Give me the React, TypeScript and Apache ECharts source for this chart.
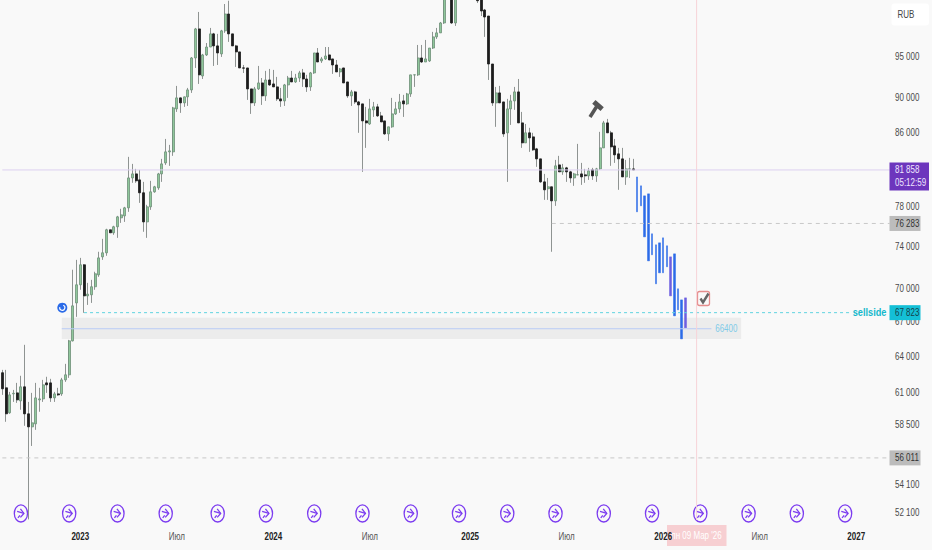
import React, { useEffect, useRef } from "react";
import * as echarts from "echarts";

// weekly candles: [open, close, low, high]
const candles: number[][] = [
[62660,61350,60860,62900],[61430,59360,58740,62900],[59440,60860,59360,61100],[60940,60990,60300,61260],[61020,60460,60220,61830],
[60380,61510,59680,62410],[61510,59360,58430,65010],[59360,58350,51650,60300],[58350,58660,56900,61020],[58580,60620,58120,61830],
[60460,60540,59520,61430],[60540,61670,60300,62075],[61830,61670,61020,62330],[61830,60620,60300,62160],[60620,60940,60300,61100],
[60940,60860,60780,61430],[60940,62075,60780,62240],[62075,62490,61910,63400],[62490,65350,62240,65435],[65350,68435,65300,71770],
[68700,70360,67450,72710],[70360,72240,69900,72900],[72240,69340,67810,72300],[69340,69500,68520,70540],[69440,70180,68700,70820],
[70180,71390,69900,71580],[71290,72900,71100,73490],[73000,73390,72710,74750],[73390,75650,73100,75750],[75650,75350,75350,75650],
[75350,75950,75150,76050],[75950,76950,74850,77050],[76850,77150,76340,77770],[77050,77870,76440,77970],[77870,81000,77460,83280],
[81000,81430,80480,82510],[81430,80690,80480,81970],[80790,79430,78380,81860],[79430,76440,75450,80580],[76440,77970,74850,78180],
[77970,79530,77660,80690],[79530,80060,79430,80160],[79950,81430,79740,81540],[81430,82510,80580,83060],[82620,83830,82400,85270],
[83830,83940,82300,84605],[83830,88830,83390,88950],[88710,90010,88360,91440],[90010,89420,88250,90050],[89420,90130,88950,90160],
[90130,90960,89060,91200],[90960,94870,90600,94990],[94870,98570,93630,98700],[98570,92780,91680,100800],[92650,95250,92280,95380],
[95250,96250,95120,96760],[96250,97930,96240,98700],[97930,96390,93880,98060],[96390,95500,94000,97930],[95380,98320,95000,98450],
[98320,100530,98060,101860],[100530,97930,96900,102300],[97930,96390,96380,97930],[96390,95630,93760,96520],[95630,93630,93630,95630],
[93640,93600,93010,94000],[93630,91080,89770,93630],[91080,89420,88130,91080],[89420,91080,89060,91320],[91080,91800,90960,93880],
[91800,90250,89180,92400],[90250,92160,89650,93270],[92160,91560,91440,93510],[91680,91320,91320,93390],[91320,89890,89650,92530],
[89890,89650,88950,91200],[89650,91560,89060,91680],[91560,92400,90010,92650],[92400,91920,91920,93270],[91920,92400,91800,92900],
[92400,93020,91920,93270],[93020,92280,91320,93510],[92280,91320,90720,92780],[91320,93020,90840,93140],[93020,95500,92900,95500],
[95500,94370,94370,96120],[94500,94750,94250,95000],[94750,95120,94620,96250],[95250,94620,94620,96250],[94750,94000,92900,94750],
[94000,93140,93140,94620],[93140,93510,92530,93630],[93630,91800,91800,93630],[91920,90250,90010,91920],[90250,90720,89060,90960],
[90720,89530,89300,90840],[89530,89180,85960,89650],[89300,87320,81650,89300],[87320,87090,84270,88950],[86970,88710,86860,89890],
[88600,88950,87780,89530],[88950,87900,87780,89300],[87900,87200,87200,88360],[87320,85840,85730,87320],[85840,86640,85050,86640],
[86640,88130,86530,90010],[88130,88710,88010,89530],[88710,89530,88250,90480],[89650,89300,87780,90370],[89300,90480,89180,90600],
[90480,92780,90130,92780],[92770,92790,91320,92790],[92780,94870,92650,96510],[94870,94370,94250,96510],[94370,94750,94370,97150],
[94500,96120,94370,96120],[96120,97540,96000,98190],[97540,98060,97280,98700],[98060,99350,98060,99480],[99350,103000,99220,103500],
[103500,105000,103000,106000],[104000,99350,99220,105000],[99350,104000,98960,105000],[104000,106000,103200,107000],[106000,107500,105000,108500],
[107500,106500,105500,108500],[106500,107000,105500,108000],[107000,105500,104500,107500],[105500,102300,101990,106000],[102900,100930,100260,103500],
[101060,100130,97540,101200],[100260,94120,92160,100260],[94120,89420,89060,94120],[89420,90600,86640,91320],[90600,89420,89400,91440],
[89530,85840,85500,89530],[85960,88710,80580,89890],[88710,89650,86860,90370],[89650,90720,88600,91320],[90720,87090,87090,92280],
[87090,84830,84270,88360],[84830,85960,84820,86970],[85960,85390,83830,86530],[85500,84050,83940,85960],[84160,83060,82190,84270],
[83060,80580,80480,83060],[80580,79740,78690,81430],[79850,80060,78690,81000],[80060,78590,73490,80060],[78590,82300,78070,82945],
[82400,81650,81650,83390],[81650,82080,81330,82510],[82080,81650,80580,82190],[81650,81000,80480,81760],[81000,81430,80160,81540],
[81320,81340,81300,84715],[81430,81110,80260,82620],[81330,81220,80480,81970],[81220,81760,80790,82080],[81870,81220,80790,82080],
[81220,81970,80580,82080],[81970,84270,81860,86070],[84270,87090,84260,87320],[87090,85960,85950,87550],[85960,84380,82300,86180],
[84490,83500,82620,85270],[83610,83060,79740,84270],[83060,81110,81100,84270],[81110,81970,80260,82945],[81950,81970,81000,83170],
[81970,81860,81860,83060],
];

// the painted blue weeks that follow the candles: [top price, bottom price]
const paintedStart = 171;
const painted: number[][] = [
[81110,77460],[80160,78075],[79110,74950],[79320,72615],[75250,73200],[74165,70450],[74360,71480],
[74850,71480],[74070,72050],[73000,69340],[73290,67540],[69990,68075],[68975,65520],[69160,66480],
];
const paintedPurple = [180, 184];

const weekCount = 240;
const firstWeek = Date.UTC(2022, 7, 8);
const categories = Array.from({ length: weekCount }, (_, i) =>
  new Date(firstWeek + i * 7 * 86400000).toISOString().slice(0, 10)
);

const timeWeeks = [21, 47, 73, 99, 126, 152, 178, 204, 230];
const timeNames = ["2023", "Июл", "2024", "Июл", "2025", "Июл", "2026", "Июл", "2027"];
const priceTicks = [95000, 90000, 86000, 78000, 74000, 70000, 67000, 64000, 61000, 58500, 54100, 52100];
const tagPrices = [81858, 76283, 67823, 56011];
const tagLines = [["81 858", "05:12:59"], ["76 283"], ["67 823"], ["56 011"]];
const tagFills = ["#6d36bd", "#bcbcbc", "#14bfd6", "#bcbcbc"];
const tagTexts = ["#efe6ff", "#333333", "#14424a", "#333333"];
const eventWeeks = [5, 18, 31, 44, 58, 71, 84, 97, 110, 123, 136, 149, 162, 175, 188, 201, 214, 227];
const eventPrice = 52060;
const cursorWeek = 187;
const lastPrice = 81858;
const level76 = 76283;
const level56 = 56011;
const sellside = 67823;
const level66 = 66400;
const zoneTop = 67380;
const zoneBottom = 65500;

const FONT = '"Liberation Sans", Arial, sans-serif';
const SQUEEZE = 0.8;
const spaced = (v: number) => String(Math.round(v)).replace(/\B(?=(\d{3})+$)/g, " ");
const squeezed = (text: string, x: number, y: number, fill: string, extra: any = {}, align = "left") => ({
  type: "text",
  x,
  y,
  scaleX: SQUEEZE,
  style: { text, x: 0, y: 0, fill, fontSize: 10, fontFamily: FONT, align, verticalAlign: "middle", ...extra },
});

echarts.graphic.registerShape(
  "hammer",
  echarts.graphic.extendPath(
    "M7.8 -0.8 L4.5 3 L-3.8 -4.2 L-0.5 -8 Z M2.5 -1 L-4.5 10 L-7.5 8 L-0.5 -3 Z",
    {}
  )
);

export default function App() {
  const ref = useRef<HTMLDivElement>(null);
  useEffect(() => {
    document.body.style.margin = "0";
    const chart = echarts.init(ref.current!, undefined, { renderer: "svg" });
    const bodies = candles.map(([o, c]) => [o, c, Math.min(o, c), Math.max(o, c)]);
    const paintedData = categories.map((_, i) => {
      const row = painted[i - paintedStart];
      if (!row) return ["-", "-", "-", "-"];
      const value = [row[0], row[1], row[1], row[0]];
      if (paintedPurple.includes(i)) {
        return { value, itemStyle: { color: "#6d5fe0", color0: "#6d5fe0", borderColor: "#6d5fe0", borderColor0: "#6d5fe0" } };
      }
      return value;
    });
    const level = (color: string, type: any, from: number[], to: number[]) => ({
      type: "line",
      silent: true,
      symbol: "none",
      showSymbol: false,
      lineStyle: { color, type, width: 1 },
      data: [from, to],
    });
    chart.setOption({
      animation: false,
      backgroundColor: "#f9f9f9",
      grid: { left: 0.5, right: 40.5, top: 0, bottom: 30 },
      xAxis: {
        type: "category",
        data: categories,
        boundaryGap: true,
        axisLine: { show: false },
        axisTick: { show: false },
        splitLine: { show: false },
        axisLabel: { show: false },
      },
      yAxis: {
        type: "log",
        logBase: Math.E,
        position: "right",
        min: 51610,
        max: 102400,
        axisLine: { show: false },
        axisTick: { show: false },
        splitLine: { show: false },
        minorTick: { show: false },
        axisLabel: { show: false },
      },
      series: [
        {
          type: "line",
          data: [],
          silent: true,
          markArea: {
            silent: true,
            itemStyle: { color: "#ececec" },
            data: [[{ coord: [16, zoneTop] }, { coord: [199, zoneBottom] }]],
          },
        },
        level("#dcd0f0", "solid", [0, lastPrice], [239, lastPrice]),
        level("#c8c8c8", [4, 4], [0, level56], [239, level56]),
        level("#c8c8c8", [4, 4], [148, level76], [239, level76]),
        level("#5fd3e0", [3, 3], [22, sellside], [239, sellside]),
        level("#b9cbf6", "solid", [16, level66], [191, level66]),
        level("#f7d3d8", "solid", [cursorWeek, 51610], [cursorWeek, 102400]),
        {
          type: "candlestick",
          name: "wicks",
          barWidth: 1,
          data: candles.map((r) => [...r]),
          itemStyle: { color: "#8f9492", color0: "#8f9492", borderColor: "#8f9492", borderColor0: "#8f9492", borderWidth: 1 },
        },
        {
          type: "candlestick",
          name: "bodies",
          barWidth: 2.5,
          data: bodies,
          itemStyle: { color: "#8fc79b", color0: "#1d1d1d", borderColor: "#6f8f78", borderColor0: "#1d1d1d", borderWidth: 0.8 },
        },
        {
          type: "candlestick",
          name: "painted",
          barWidth: 2,
          data: paintedData,
          itemStyle: { color: "#2b6be8", color0: "#2b6be8", borderColor: "#2b6be8", borderColor0: "#2b6be8", borderWidth: 0.5 },
        },
        {
          type: "custom",
          name: "notes",
          z: 4,
          data: [[234, sellside], [195, level66]],
          encode: { x: 0, y: 1 },
          renderItem: (params: any, api: any) => {
            const [x, y] = api.coord([api.value(0), api.value(1)]);
            if (params.dataIndex === 0) {
              return {
                type: "group",
                children: [
                  { type: "rect", shape: { x: x - 20, y: y - 6, width: 40, height: 12 }, style: { fill: "#f9f9f9" } },
                  squeezed("sellside", x - 1.5, y - 0.5, "#14b8cc", { fontSize: 11.5, fontWeight: "bold" }, "center"),
                ],
              };
            }
            return squeezed("66400", x, y, "#7fcbe8", {}, "center");
          },
        },
        {
          type: "custom",
          name: "events",
          data: eventWeeks.map((w) => [w, eventPrice]),
          encode: { x: 0, y: 1 },
          renderItem: (_: any, api: any) => {
            const [cx, cy] = api.coord([api.value(0), api.value(1)]);
            const stroke = { stroke: "#7c3cf0", fill: "none", lineWidth: 1.3 };
            return {
              type: "group",
              children: [
                { type: "ellipse", shape: { cx, cy, rx: 6.6, ry: 8.6 }, style: stroke },
                { type: "polyline", shape: { points: [[cx - 0.5, cy - 4.5], [cx + 3, cy], [cx - 0.5, cy + 4]] }, style: stroke },
                { type: "polyline", shape: { points: [[cx - 3.8, cy - 2], [cx + 3, cy]] }, style: stroke },
                { type: "polyline", shape: { points: [[cx - 3, cy + 4.5], [cx - 1, cy + 2]] }, style: stroke },
              ],
            };
          },
        },
        {
          type: "custom",
          name: "time labels",
          data: timeWeeks.map((w) => [w, 0]),
          encode: { x: 0 },
          renderItem: (params: any, api: any) => {
            const x = api.coord([api.value(0), 60000])[0];
            const name = timeNames[params.dataIndex];
            const month = name === "Июл";
            return squeezed(name, x, 537, month ? "#555555" : "#222222", { fontWeight: month ? "normal" : "bold" }, "center");
          },
          z: 3,
        },
        {
          type: "custom",
          name: "price ticks",
          data: priceTicks.map((p) => [0, p]),
          encode: { y: 1 },
          renderItem: (_: any, api: any) => {
            const y = api.coord([0, api.value(1)])[1];
            return squeezed(spaced(api.value(1)), 895, y, "#4a4a4a");
          },
        },
        {
          type: "custom",
          name: "tags",
          z: 5,
          data: tagPrices.map((p) => [0, p]),
          encode: { x: 0, y: 1 },
          renderItem: (params: any, api: any) => {
            const i = params.dataIndex;
            const y = api.coord([0, api.value(1)])[1];
            const two = tagLines[i].length === 2;
            const children: any[] = [
              {
                type: "rect",
                shape: { x: 889.5, y: y - 7.5, width: two ? 39.5 : 31, height: two ? 28 : 15 },
                style: { fill: tagFills[i] },
              },
            ];
            tagLines[i].forEach((t, k) => {
              children.push(squeezed(t, 895, y + k * 13, tagTexts[i]));
            });
            return { type: "group", children };
          },
        },
      ],
      graphic: [
        { type: "rect", z: 1, shape: { x: 891.5, y: 3.5, width: 37.5, height: 22, r: 3 }, style: { fill: "#ffffff" } },
        { ...squeezed("RUB", 897.5, 15, "#444444"), z: 2 },
        { type: "rect", z: 0, shape: { x: 667, y: 525, width: 59.5, height: 21 }, style: { fill: "#f7cfd2" } },
        { ...squeezed("пн 09 Мар '26", 696.5, 536, "#ffffff", {}, "center"), z: 0 },
        { type: "hammer", x: 596, y: 108, style: { fill: "#555555" } },
        { type: "rect", shape: { x: 697.5, y: 291.5, width: 12, height: 14, r: 2 }, style: { fill: "#f9f9f9", stroke: "#e58d8d", lineWidth: 1.3 } },
        { type: "polyline", shape: { points: [[700.5, 298.5], [703, 302.5], [708.5, 293.5]] }, style: { stroke: "#666666", fill: "none", lineWidth: 2.4 } },
        { type: "circle", shape: { cx: 62.3, cy: 307.7, r: 5 }, style: { fill: "#2b6be8" } },
        { type: "arc", shape: { cx: 62.3, cy: 307.7, r: 2.6, startAngle: -1.2, endAngle: 3.4 }, style: { stroke: "#ffffff", fill: "none", lineWidth: 1.1 } },
      ],
    });
    return () => chart.dispose();
  }, []);
  return <div ref={ref} style={{ position: "absolute", left: 0, top: 0, width: 932, height: 550 }} />;
}
